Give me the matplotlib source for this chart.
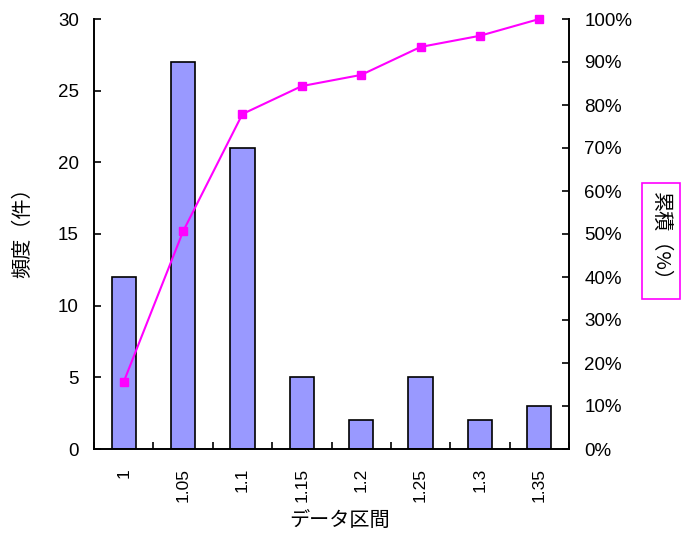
import matplotlib
matplotlib.use("Agg")
import matplotlib.pyplot as plt
import numpy as np
from matplotlib.ticker import MultipleLocator, FuncFormatter

categories = ["1", "1.05", "1.1", "1.15", "1.2", "1.25", "1.3", "1.35"]
freq = [12, 27, 21, 5, 2, 5, 2, 3]
cum_pct = [15.6, 50.6, 77.9, 84.4, 87.0, 93.5, 96.1, 100.0]

plt.rcParams['font.family'] = ['Liberation Sans', 'Noto Sans CJK JP', 'DejaVu Sans']

fig = plt.figure(figsize=(6.84, 5.34), dpi=100)
W, H = 684, 534
L, R, T, B = 94, 569, 19, 449
ax = fig.add_axes([L / W, 1 - B / H, (R - L) / W, (B - T) / H])
x = np.arange(len(categories))
ax.bar(x, freq, width=0.41, color='#9999ff', edgecolor='black', linewidth=1.2, zorder=2)
ax.set_xlim(-0.5, len(categories) - 0.5)
ax.set_ylim(0, 30)
ax.yaxis.set_major_locator(MultipleLocator(5))
ax.set_xticks(x)
ax.set_xticklabels(categories, rotation=90, fontsize=12.5)
ax.tick_params(axis='x', length=0, pad=13.5)
ax.set_xticks(np.arange(-0.5, len(categories), 1), minor=True)
ax.tick_params(axis='x', which='minor', direction='in', length=5, width=1.2)
ax.tick_params(axis='y', direction='in', length=5, width=1.2, labelsize=13.5, pad=11)
for s in ['left', 'bottom']:
    ax.spines[s].set_linewidth(1.4)
ax.spines['top'].set_visible(False)
ax.spines['right'].set_visible(False)

ax2 = ax.twinx()
ax2.plot(x, cum_pct, color='#ff00ff', marker='s', markersize=5.5, linewidth=1.5, zorder=3, clip_on=False)
ax2.set_ylim(0, 100)
ax2.yaxis.set_major_locator(MultipleLocator(10))
ax2.yaxis.set_major_formatter(FuncFormatter(lambda v, p: f"{int(round(v))}%"))
ax2.tick_params(axis='y', direction='in', length=5, width=1.2, labelsize=13.5, pad=11)
ax2.spines['right'].set_linewidth(1.4)
ax2.spines['top'].set_visible(False)
ax2.spines['left'].set_visible(False)
ax2.spines['bottom'].set_visible(False)

fig.text(23 / W, 1 - 228 / H, "頻度（件）", rotation=90, ha='center', va='center', fontsize=14.5,
         family=['Noto Sans CJK JP'])
fig.text(340 / W, 1 - 520 / H, "データ区間", ha='center', va='center', fontsize=14.5,
         family=['Noto Sans CJK JP'])
fig.text(661 / W, 1 - 241 / H, "累積（%）", rotation=270, ha='center', va='center', fontsize=14.5,
         family=['Noto Sans CJK JP'],
         bbox=dict(boxstyle='square,pad=0.42', facecolor='white', edgecolor='#ff00ff', linewidth=1.2))

fig.savefig("out.png", dpi=100)
